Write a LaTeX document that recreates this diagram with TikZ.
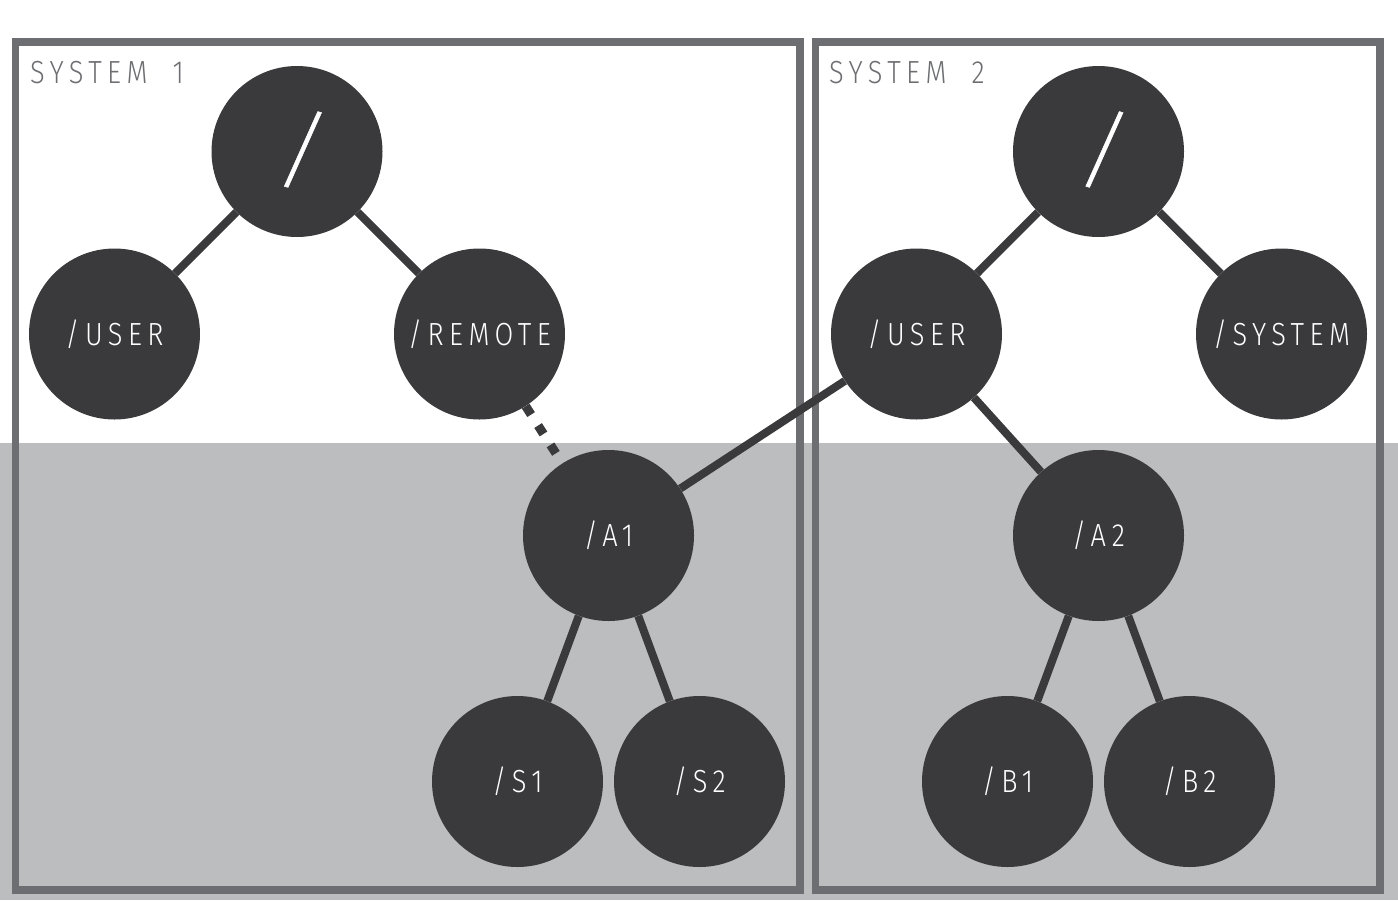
\documentclass[tikz,border=0pt]{standalone}
\usepackage{fontspec}
\newfontfamily\lblfont{Fira Sans}[UprightFont=* Light, FakeStretch=0.85, LetterSpace=17]
\newfontfamily\rootfont{Fira Sans}[UprightFont=* Light, FakeStretch=0.95, FakeSlant=0.2, FakeBold=0.6]
\definecolor{nodefill}{HTML}{3A3A3C}
\definecolor{bandgray}{HTML}{BCBDBF}
\definecolor{boxgray}{HTML}{6D6E71}
\begin{document}
\begin{tikzpicture}[x=1pt,y=-1pt,
  nd/.style={circle, fill=nodefill, minimum size=171pt, inner sep=0pt, text=white,
    font=\lblfont\fontsize{32}{32}\selectfont, text height=22pt, text depth=0pt},
  rootnd/.style={nd, font=\rootfont\fontsize{84}{84}\selectfont, text height=55pt, text depth=0pt},
  edge/.style={draw=nodefill, line width=8pt},
  dashedge/.style={draw=nodefill, line width=9pt, dash pattern=on 10pt off 13pt},
  sysbox/.style={draw=boxgray, line width=7.5pt},
  syslabel/.style={anchor=base west, inner sep=0pt, text=boxgray,
    font=\lblfont\fontsize{32}{32}\selectfont}]
\useasboundingbox (0,0) rectangle (1398,900);
\fill[bandgray] (0,443) rectangle (1398,900);
\draw[sysbox] (15.5,42) rectangle (800,890);
\draw[sysbox] (815.5,42) rectangle (1380,890);
\node[syslabel] (lab1) at (30,83) {SYSTEM\hspace{25pt}1};
\node[syslabel] (lab2) at (829,83) {SYSTEM\hspace{25pt}2};
% system 1
\node[rootnd] (root1) at (297,151.5) {/};
\node[nd] (user1) at (114.5,334) {/USER};
\node[nd] (remote) at (479.5,334) {/REMOTE};
\node[nd] (a1) at (608.5,535.5) {/A1};
\node[nd] (s1) at (517.5,781.5) {/S1};
\node[nd] (s2) at (699.5,781.5) {/S2};
% system 2
\node[rootnd] (root2) at (1098.5,151.5) {/};
\node[nd] (user2) at (916.5,334) {/USER};
\node[nd] (system) at (1281.5,334) {/SYSTEM};
\node[nd] (a2) at (1098.5,535.5) {/A2};
\node[nd] (b1) at (1007.5,781.5) {/B1};
\node[nd] (b2) at (1189.5,781.5) {/B2};
% connectors
\draw[edge] (root1) -- (user1);
\draw[edge] (root1) -- (remote);
\draw[dashedge] (remote) -- (a1);
\draw[edge] (a1) -- (s1);
\draw[edge] (a1) -- (s2);
\draw[edge] (user2) -- (a1);
\draw[edge] (root2) -- (user2);
\draw[edge] (root2) -- (system);
\draw[edge] (user2) -- (a2);
\draw[edge] (a2) -- (b1);
\draw[edge] (a2) -- (b2);
\end{tikzpicture}
\end{document}
